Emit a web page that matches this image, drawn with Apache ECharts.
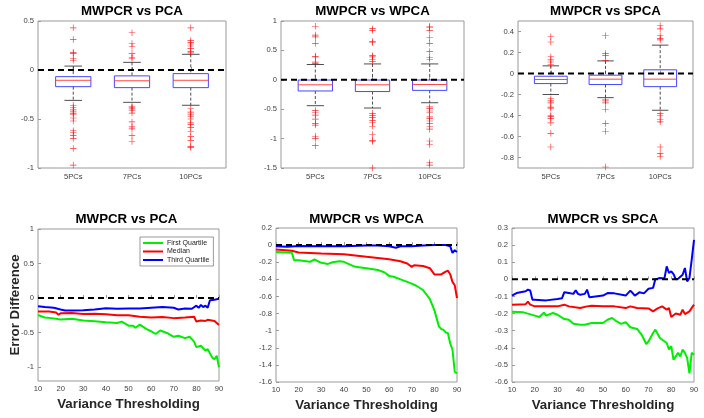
<!DOCTYPE html>
<html><head><meta charset="utf-8">
<script src="https://cdn.jsdelivr.net/npm/echarts@6/dist/echarts.min.js"></script>
<style>html,body{margin:0;padding:0;background:#fff}#c{width:704px;height:418px}</style>
</head><body><div id="c"></div>
<script>
// ---------- data ----------
const boxCategories = ['5PCs', '7PCs', '10PCs'];
const titles = ['MWPCR vs PCA', 'MWPCR vs WPCA', 'MWPCR vs SPCA'];
const seriesNames = ['First Quartile', 'Median', 'Third Quartile'];

// box stats: [lowerWhisker, Q1, median, Q3, upperWhisker]
const pcaBox = [[-0.31, -0.17, -0.105, -0.068, 0.04], [-0.33, -0.18, -0.11, -0.06, 0.078], [-0.36, -0.18, -0.105, -0.037, 0.16]];
const wpcaBox = [[-0.44, -0.19, -0.085, -0.004, 0.26], [-0.48, -0.2, -0.085, -0.004, 0.27], [-0.39, -0.18, -0.08, -0.004, 0.27]];
const spcaBox = [[-0.20, -0.096, -0.057, -0.026, 0.073], [-0.23, -0.105, -0.054, -0.016, 0.12], [-0.35, -0.125, -0.054, 0.035, 0.27]];

const pcaOut5 = [0.43, 0.31, 0.18, 0.17, 0.12, 0.10, -0.36, -0.38, -0.40, -0.42, -0.44, -0.45, -0.49, -0.52, -0.62, -0.64, -0.67, -0.70, -0.80, -0.97];
const pcaOut7 = [0.38, 0.27, 0.24, 0.17, 0.13, 0.12, -0.37, -0.38, -0.39, -0.41, -0.44, -0.53, -0.58, -0.60, -0.67, -0.73];
const pcaOut10 = [0.43, 0.30, 0.28, 0.265, 0.245, 0.22, 0.19, 0.175, -0.39, -0.43, -0.45, -0.47, -0.50, -0.54, -0.555, -0.585, -0.63, -0.68, -0.72, -0.78, -0.79];
const wpcaOut5 = [0.91, 0.76, 0.73, 0.62, 0.40, 0.39, 0.30, 0.28, -0.52, -0.56, -0.60, -0.67, -0.74, -0.77, -0.96, -1.0, -1.12];
const wpcaOut7 = [0.87, 0.84, 0.65, 0.63, 0.41, 0.39, 0.35, 0.31, -0.57, -0.61, -0.64, -0.69, -0.73, -0.79, -0.93, -1.03, -1.05, -1.5];
const wpcaOut10 = [0.91, 0.89, 0.84, 0.72, 0.62, 0.48, 0.38, 0.35, -0.46, -0.49, -0.53, -0.56, -0.63, -0.66, -0.70, -0.74, -0.79, -0.84, -1.04, -1.10, -1.41, -1.45];
const spcaOut5 = [0.35, 0.30, 0.16, 0.13, 0.11, 0.086, -0.24, -0.26, -0.28, -0.32, -0.33, -0.40, -0.41, -0.43, -0.47, -0.57, -0.70];
const spcaOut7 = [0.36, 0.19, 0.17, 0.125, -0.25, -0.26, -0.28, -0.34, -0.475, -0.55, -0.89];
const spcaOut10 = [0.455, 0.425, 0.36, 0.335, 0.32, -0.38, -0.40, -0.44, -0.46, -0.70, -0.76, -0.79];

// line charts: [variance threshold, error difference]
const pcaQ1 = [[10,-0.245],[13,-0.28],[16,-0.29],[20,-0.31],[25,-0.30],[30,-0.325],[35,-0.335],[40,-0.35],[45,-0.36],[47,-0.34],[50,-0.40],[52,-0.40],[53,-0.43],[55,-0.385],[58,-0.45],[60,-0.48],[62,-0.52],[64,-0.47],[67,-0.505],[70,-0.56],[72,-0.545],[75,-0.58],[77,-0.56],[79,-0.63],[80,-0.71],[82,-0.69],[84,-0.76],[85,-0.74],[86,-0.80],[87,-0.86],[88,-0.885],[89,-0.835],[90,-1.0]];
const pcaMed = [[10,-0.195],[15,-0.195],[18,-0.21],[19,-0.24],[20,-0.22],[25,-0.215],[30,-0.23],[35,-0.225],[40,-0.235],[45,-0.25],[50,-0.25],[55,-0.27],[60,-0.28],[65,-0.275],[70,-0.29],[75,-0.28],[79,-0.27],[80,-0.34],[82,-0.325],[84,-0.33],[85,-0.315],[88,-0.33],[90,-0.39]];
const pcaQ3 = [[10,-0.117],[13,-0.13],[17,-0.14],[20,-0.165],[22,-0.18],[25,-0.18],[30,-0.175],[35,-0.165],[40,-0.146],[45,-0.155],[50,-0.15],[55,-0.15],[60,-0.14],[65,-0.13],[70,-0.14],[72,-0.165],[75,-0.15],[78,-0.155],[80,-0.11],[81,-0.14],[82,-0.10],[83,-0.13],[84,-0.11],[85,-0.14],[86,-0.03],[88,-0.025],[90,-0.01]];

const wpcaQ1 = [[10,-0.08],[17,-0.09],[18,-0.176],[20,-0.176],[25,-0.195],[27,-0.168],[30,-0.207],[33,-0.22],[35,-0.20],[38,-0.19],[40,-0.195],[45,-0.254],[50,-0.27],[55,-0.29],[58,-0.32],[60,-0.36],[62,-0.37],[65,-0.40],[68,-0.43],[70,-0.45],[72,-0.475],[75,-0.525],[78,-0.63],[80,-0.76],[82,-0.95],[83,-0.98],[84,-0.99],[85,-1.02],[86,-1.03],[87,-1.15],[88,-1.22],[89,-1.48],[90,-1.5]];
const wpcaMed = [[10,-0.052],[17,-0.067],[20,-0.087],[30,-0.098],[40,-0.106],[50,-0.137],[55,-0.15],[60,-0.165],[65,-0.188],[68,-0.215],[70,-0.254],[71,-0.235],[75,-0.245],[78,-0.27],[80,-0.343],[83,-0.343],[85,-0.31],[86,-0.30],[87,-0.34],[88,-0.43],[89,-0.47],[90,-0.62]];
const wpcaQ3 = [[10,-0.013],[15,-0.02],[20,-0.01],[30,-0.013],[40,-0.013],[50,-0.006],[55,-0.006],[60,-0.013],[63,-0.03],[65,-0.013],[70,-0.013],[75,-0.005],[80,0],[85,0],[87,-0.013],[88,-0.09],[89,-0.06],[90,-0.08]];

const spcaQ1 = [[10,-0.19],[15,-0.193],[20,-0.212],[22,-0.22],[24,-0.195],[25,-0.212],[28,-0.197],[30,-0.207],[33,-0.232],[35,-0.236],[37,-0.26],[40,-0.265],[42,-0.265],[45,-0.255],[48,-0.255],[50,-0.255],[52,-0.236],[54,-0.226],[56,-0.246],[58,-0.26],[60,-0.25],[62,-0.28],[65,-0.29],[67,-0.324],[69,-0.378],[70,-0.363],[72,-0.314],[73,-0.294],[75,-0.343],[78,-0.372],[79,-0.41],[80,-0.39],[81,-0.47],[82,-0.45],[83,-0.43],[84,-0.45],[85,-0.41],[86,-0.43],[87,-0.46],[88,-0.55],[89,-0.43],[90,-0.44]];
const spcaMed = [[10,-0.148],[16,-0.145],[17,-0.13],[18,-0.148],[20,-0.158],[30,-0.158],[33,-0.148],[35,-0.158],[40,-0.168],[43,-0.158],[45,-0.154],[50,-0.158],[55,-0.158],[60,-0.168],[62,-0.158],[65,-0.168],[70,-0.17],[72,-0.187],[74,-0.17],[76,-0.158],[78,-0.177],[79,-0.168],[80,-0.22],[82,-0.20],[84,-0.207],[85,-0.177],[86,-0.203],[88,-0.187],[90,-0.148]];
const spcaQ3 = [[10,-0.095],[12,-0.08],[16,-0.07],[17,-0.06],[18,-0.065],[19,-0.12],[20,-0.12],[25,-0.123],[30,-0.115],[32,-0.11],[33,-0.075],[35,-0.08],[37,-0.085],[38,-0.064],[39,-0.085],[40,-0.09],[42,-0.085],[43,-0.06],[44,-0.105],[45,-0.103],[50,-0.095],[52,-0.08],[55,-0.082],[60,-0.095],[62,-0.066],[63,-0.08],[64,-0.095],[66,-0.076],[68,-0.082],[70,-0.055],[72,-0.05],[73,0],[75,0.008],[77,0.005],[78,0.076],[79,0.037],[80,0.047],[81,0.03],[82,0],[83,0.003],[85,0.027],[86,0.066],[87,-0.012],[88,0.008],[89,0.115],[90,0.23]];

// tick labels
const yTicksTop = [[-1, -0.5, 0, 0.5], [-1.5, -1, -0.5, 0, 0.5, 1], [-0.8, -0.6, -0.4, -0.2, 0, 0.2, 0.4]];
const yRangeTop = [[-1, 0.5], [-1.5, 1], [-0.9, 0.5]];
const yTicksBottom = [[-1, -0.5, 0, 0.5, 1], [-1.6, -1.4, -1.2, -1, -0.8, -0.6, -0.4, -0.2, 0, 0.2], [-0.6, -0.5, -0.4, -0.3, -0.2, -0.1, 0, 0.1, 0.2, 0.3]];
const yRangeBottom = [[-1.2, 1], [-1.6, 0.2], [-0.6, 0.3]];
const xTicksBottom = [10, 20, 30, 40, 50, 60, 70, 80, 90];

// ---------- chart ----------
const FONT = 'Liberation Sans';
const LABEL_COLOR = '#404040';
const BORDER = '#9a9a9a';
const lineColors = ['#00ee00', '#ff0000', '#0000ff'];

const grids = [
  {left: 38, top: 21, width: 188, height: 147},
  {left: 281, top: 21, width: 183, height: 147},
  {left: 518, top: 21, width: 175, height: 147},
  {left: 38, top: 229, width: 181, height: 152},
  {left: 276, top: 228, width: 181, height: 154},
  {left: 512, top: 228, width: 182, height: 154}
].map(g => Object.assign({show: true, borderColor: BORDER, borderWidth: 1, backgroundColor: 'transparent'}, g));

const titleOpts = [];
grids.forEach((g, i) => {
  titleOpts.push({
    text: titles[i % 3], left: g.left + g.width / 2 - (i === 3 ? 2 : 0), top: i < 3 ? 5 : 213,
    textAlign: 'center', padding: 0,
    textStyle: {fontFamily: FONT, fontWeight: 'bold', fontSize: 13.3, color: '#000'}
  });
});

const axisLabelBase = {fontFamily: FONT, fontSize: 7.6, color: LABEL_COLOR};
const xAxes = [], yAxes = [];
for (let i = 0; i < 3; i++) {
  xAxes.push({
    gridIndex: i, type: 'value', min: 0.4, max: 3.6,
    axisLine: {show: false}, splitLine: {show: false},
    axisTick: {show: true, inside: true, length: 3, lineStyle: {color: BORDER}, customValues: [1, 2, 3]},
    axisLabel: Object.assign({margin: 5, customValues: [1, 2, 3], formatter: v => boxCategories[Math.round(v) - 1] || ''}, axisLabelBase)
  });
  yAxes.push({
    gridIndex: i, type: 'value', min: yRangeTop[i][0], max: yRangeTop[i][1],
    axisLine: {show: false}, splitLine: {show: false},
    axisTick: {show: true, inside: true, length: 3, lineStyle: {color: BORDER}, customValues: yTicksTop[i]},
    axisLabel: Object.assign({margin: 4, customValues: yTicksTop[i]}, axisLabelBase)
  });
}
for (let i = 0; i < 3; i++) {
  xAxes.push({
    gridIndex: 3 + i, type: 'value', min: 10, max: 90, interval: 10,
    axisLine: {show: false}, splitLine: {show: false},
    axisTick: {show: true, inside: true, length: 3, lineStyle: {color: BORDER}, customValues: xTicksBottom},
    axisLabel: Object.assign({margin: 4, customValues: xTicksBottom}, axisLabelBase),
    name: 'Variance Thresholding', nameLocation: 'middle', nameGap: 17, nameMoveOverlap: false,
    nameTextStyle: {fontFamily: FONT, fontWeight: 'bold', fontSize: 13.3, color: '#262626'}
  });
  yAxes.push(Object.assign({
    gridIndex: 3 + i, type: 'value', min: yRangeBottom[i][0], max: yRangeBottom[i][1],
    axisLine: {show: false}, splitLine: {show: false},
    axisTick: {show: true, inside: true, length: 3, lineStyle: {color: BORDER}, customValues: yTicksBottom[i]},
    axisLabel: Object.assign({margin: 4, customValues: yTicksBottom[i]}, axisLabelBase)
  }, i === 0 ? {
    name: 'Error Difference', nameLocation: 'middle', nameGap: 16, nameMoveOverlap: false,
    nameTextStyle: {fontFamily: FONT, fontWeight: 'bold', fontSize: 13.3, color: '#262626'}
  } : {}));
}

const plusSymbol = 'path://M0,4.5H10V5.5H0Z M4.5,0H5.5V10H4.5Z';
const BOX_HALF = 0.3, CAP_HALF = 0.15;

function boxRender(params, api) {
  const x = api.value(0), lo = api.value(1), q1 = api.value(2), med = api.value(3), q3 = api.value(4), hi = api.value(5);
  const pL = api.coord([x - BOX_HALF, q3]), pR = api.coord([x + BOX_HALF, q1]);
  const cTop = api.coord([x, hi]), cBot = api.coord([x, lo]);
  const cQ3 = api.coord([x, q3]), cQ1 = api.coord([x, q1]);
  const mL = api.coord([x - BOX_HALF, med]), mR = api.coord([x + BOX_HALF, med]);
  const capL = api.coord([x - CAP_HALF, hi]), capR = api.coord([x + CAP_HALF, hi]);
  const capL2 = api.coord([x - CAP_HALF, lo]), capR2 = api.coord([x + CAP_HALF, lo]);
  const dash = {stroke: '#222', lineWidth: 0.8, lineDash: [3, 2]};
  const solid = {stroke: '#222', lineWidth: 0.8};
  return {
    type: 'group', children: [
      {type: 'line', shape: {x1: cTop[0], y1: cTop[1], x2: cQ3[0], y2: cQ3[1]}, style: dash},
      {type: 'line', shape: {x1: cQ1[0], y1: cQ1[1], x2: cBot[0], y2: cBot[1]}, style: dash},
      {type: 'line', shape: {x1: capL[0], y1: capL[1], x2: capR[0], y2: capR[1]}, style: solid},
      {type: 'line', shape: {x1: capL2[0], y1: capL2[1], x2: capR2[0], y2: capR2[1]}, style: solid},
      {type: 'rect', shape: {x: pL[0], y: pL[1], width: pR[0] - pL[0], height: pR[1] - pL[1]}, style: {fill: 'none', stroke: '#3333ff', lineWidth: 0.9}},
      {type: 'line', shape: {x1: mL[0], y1: mL[1], x2: mR[0], y2: mR[1]}, style: {stroke: '#ff3333', lineWidth: 0.9}}
    ]
  };
}

const series = [];
const boxSets = [pcaBox, wpcaBox, spcaBox];
const outSets = [[pcaOut5, pcaOut7, pcaOut10], [wpcaOut5, wpcaOut7, wpcaOut10], [spcaOut5, spcaOut7, spcaOut10]];
for (let i = 0; i < 3; i++) {
  series.push({
    type: 'custom', xAxisIndex: i, yAxisIndex: i, renderItem: boxRender, silent: true,
    encode: {x: 0, y: [1, 2, 3, 4, 5]},
    data: boxSets[i].map((b, k) => [k + 1].concat(b))
  });
  const pts = [];
  outSets[i].forEach((arr, k) => arr.forEach(v => pts.push([k + 1, v])));
  series.push({
    type: 'scatter', xAxisIndex: i, yAxisIndex: i, symbol: plusSymbol, symbolSize: 6.5, silent: true,
    itemStyle: {color: '#ff0000'}, data: pts, clip: false
  });
  series.push({
    type: 'line', xAxisIndex: i, yAxisIndex: i, data: [[0.4, 0], [3.6, 0]], symbol: 'none', silent: true,
    lineStyle: {color: '#000', width: 2, type: [6, 4]}
  });
}
const lineSets = [[pcaQ1, pcaMed, pcaQ3], [wpcaQ1, wpcaMed, wpcaQ3], [spcaQ1, spcaMed, spcaQ3]];
for (let i = 0; i < 3; i++) {
  lineSets[i].forEach((d, k) => {
    series.push({
      type: 'line', name: seriesNames[k], xAxisIndex: 3 + i, yAxisIndex: 3 + i, data: d,
      symbol: 'none', showSymbol: false, silent: true, color: lineColors[k],
      lineStyle: {color: lineColors[k], width: 2}
    });
  });
  series.push({
    type: 'line', xAxisIndex: 3 + i, yAxisIndex: 3 + i, data: [[10, 0], [90, 0]], symbol: 'none', silent: true,
    lineStyle: {color: '#000', width: 2, type: [6, 4]}
  });
}

const chart = echarts.init(document.getElementById('c'), null, {renderer: 'canvas'});
chart.setOption({
  animation: false,
  backgroundColor: '#fff',
  title: titleOpts,
  grid: grids,
  xAxis: xAxes,
  yAxis: yAxes,
  legend: {
    data: seriesNames, left: 140, top: 237, orient: 'vertical',
    icon: 'rect', itemWidth: 20, itemHeight: 2, itemGap: 0.5,
    padding: [2, 4, 2, 3], borderColor: '#555', borderWidth: 0.6, backgroundColor: '#fff',
    textStyle: {fontFamily: FONT, fontSize: 7, color: '#222', lineHeight: 8, padding: [0, 0, 0, -1]},
    selectedMode: false
  },
  series: series
});
</script></body></html>
